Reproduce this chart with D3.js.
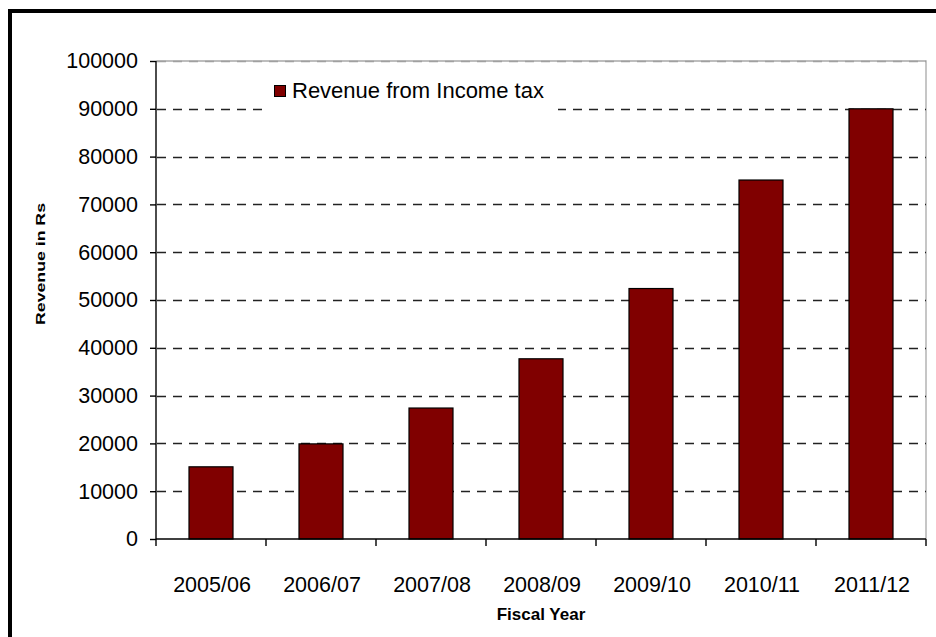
<!DOCTYPE html>
<html>
<head>
<meta charset="utf-8">
<script src="https://cdn.jsdelivr.net/npm/d3@7"></script>
<style>
  html, body { margin: 0; padding: 0; background: #fff; }
  svg { display: block; }
  text { font-family: "Liberation Sans", Arial, sans-serif; fill: #000; }
</style>
</head>
<body>
<svg id="chart" width="936" height="637"></svg>
<script>
const categories = ["2005/06", "2006/07", "2007/08", "2008/09", "2009/10", "2010/11", "2011/12"];
const revenue = [15100, 19900, 27400, 37700, 52400, 75100, 90000];
const yTicks = [0, 10000, 20000, 30000, 40000, 50000, 60000, 70000, 80000, 90000, 100000];
const seriesName = "Revenue from Income tax";
const xTitle = "Fiscal Year";
const yTitle = "Revenue in Rs";

(function () {
const svg = d3.select("#chart");
const pLeft = 156, pRight = 926, pTop = 61, pBottom = 539;

// outer frame
svg.append("rect").attr("x", 10).attr("y", 11).attr("width", 960).attr("height", 660)
  .attr("fill", "none").attr("stroke", "#000").attr("stroke-width", 4);

const x = d3.scaleBand().domain(categories).range([pLeft, pRight]).paddingInner(0.6).paddingOuter(0.3);
const y = d3.scaleLinear().domain([0, 100000]).range([pBottom, pTop]);

// plot border (top & right), light gray
svg.append("path")
  .attr("d", `M${pLeft},${pTop}H${pRight}V${pBottom}`)
  .attr("fill", "none").attr("stroke", "#a8a8a8").attr("stroke-width", 1.3);

// gridlines
svg.append("g").selectAll("line").data(yTicks.filter(d => d > 0)).join("line")
  .attr("x1", pLeft + 1).attr("x2", pRight)
  .attr("y1", d => Math.round(y(d)) + 0.5).attr("y2", d => Math.round(y(d)) + 0.5)
  .attr("stroke", d => d === 100000 ? "#a0a0a0" : "#222")
  .attr("stroke-width", 1.4)
  .attr("stroke-dasharray", "9,7");

// bars
svg.append("g").selectAll("rect").data(categories).join("rect")
  .attr("x", d => x(d))
  .attr("y", (d, i) => y(revenue[i]))
  .attr("width", x.bandwidth())
  .attr("height", (d, i) => y(0) - y(revenue[i]))
  .attr("fill", "#800000").attr("stroke", "#000").attr("stroke-width", 1.2);

// y axis
const yAxis = d3.axisLeft(y).tickValues(yTicks).tickSize(6).tickPadding(12).tickFormat(d3.format("d"));
const gy = svg.append("g").attr("transform", `translate(${pLeft},0)`).call(yAxis);
gy.attr("font-family", null).attr("font-size", null);
gy.select(".domain").attr("d", `M0,${pTop}V${pBottom}`).attr("stroke-width", 1.4);
gy.selectAll(".tick line").attr("stroke-width", 1.4);
gy.selectAll("text").style("font-size", "21.5px");

// x axis
const step = x.step();
const offs = (step - x.bandwidth()) / 2;
const boundaries = categories.map(c => x(c) - offs).concat([pRight]);
svg.append("line").attr("x1", pLeft).attr("x2", pRight).attr("y1", pBottom).attr("y2", pBottom)
  .attr("stroke", "#000").attr("stroke-width", 1.4);
svg.append("g").selectAll("line").data(boundaries).join("line")
  .attr("x1", d => d).attr("x2", d => d).attr("y1", pBottom).attr("y2", pBottom + 7)
  .attr("stroke", "#000").attr("stroke-width", 1.4);
svg.append("g").selectAll("text").data(categories).join("text")
  .attr("x", d => x(d) + x.bandwidth() / 2 + 1)
  .attr("y", 592)
  .attr("text-anchor", "middle")
  .style("font-size", "21.5px")
  .text(d => d);

// axis titles
svg.append("text").attr("x", (pLeft + pRight) / 2).attr("y", 620)
  .attr("text-anchor", "middle").style("font-size", "17px").style("font-weight", "bold")
  .text(xTitle);
svg.append("text")
  .attr("transform", "translate(45,264) rotate(-90)")
  .attr("text-anchor", "middle")
  .attr("textLength", 122).attr("lengthAdjust", "spacingAndGlyphs")
  .style("font-size", "12px").style("font-weight", "bold")
  .text(yTitle);

// legend
const lg = svg.append("g");
lg.append("rect").attr("x", 268).attr("y", 74).attr("width", 290).attr("height", 38).attr("fill", "#fff");
lg.append("rect").attr("x", 274.5).attr("y", 85.5).attr("width", 11).attr("height", 11)
  .attr("fill", "#800000").attr("stroke", "#000").attr("stroke-width", 1);
lg.append("text").attr("x", 292).attr("y", 98).style("font-size", "22px").text(seriesName);
})();
</script>
</body>
</html>
